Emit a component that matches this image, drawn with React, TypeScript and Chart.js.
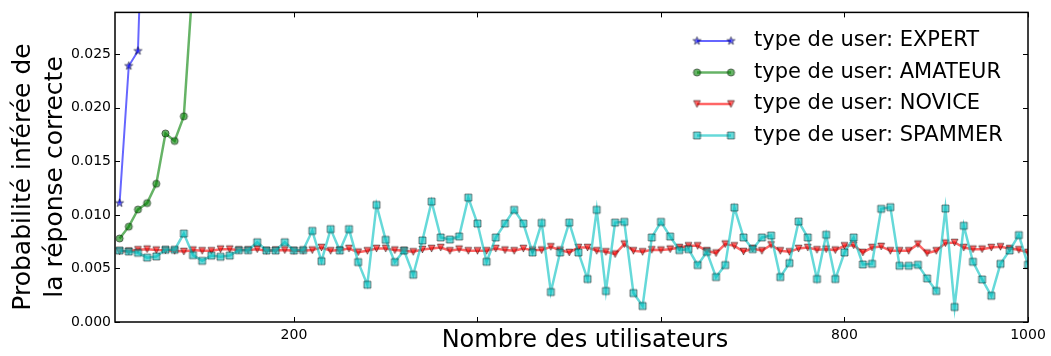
import React, { useEffect, useRef } from 'react';
import { Chart, registerables } from 'chart.js';

Chart.register(...registerables);

// ---- Data ----
const USERS = [
  10, 20, 30, 40, 50, 60, 70, 80, 90, 100,
  110, 120, 130, 140, 150, 160, 170, 180, 190, 200,
  210, 220, 230, 240, 250, 260, 270, 280, 290, 300,
  310, 320, 330, 340, 350, 360, 370, 380, 390, 400,
  410, 420, 430, 440, 450, 460, 470, 480, 490, 500,
  510, 520, 530, 540, 550, 560, 570, 580, 590, 600,
  610, 620, 630, 640, 650, 660, 670, 680, 690, 700,
  710, 720, 730, 740, 750, 760, 770, 780, 790, 800,
  810, 820, 830, 840, 850, 860, 870, 880, 890, 900,
  910, 920, 930, 940, 950, 960, 970, 980, 990, 1000,
];

// visible part only (the series leaves the top of the plot afterwards)
const EXPERT = [0.0111, 0.0239, 0.0253, 0.052];
const AMATEUR = [0.0078, 0.0089, 0.0105, 0.0111, 0.0129, 0.0176, 0.0169, 0.0192, 0.032];

const NOVICE = [
  0.0066, 0.0066, 0.00674, 0.0068, 0.00671, 0.0067, 0.00665, 0.00658, 0.00671, 0.00665,
  0.00665, 0.0068, 0.0068, 0.00671, 0.00671, 0.0068, 0.00665, 0.0067, 0.00671, 0.00665,
  0.00665, 0.00671, 0.00695, 0.00665, 0.00671, 0.00686, 0.00652, 0.00665, 0.00686, 0.00686,
  0.00671, 0.00665, 0.00655, 0.00677, 0.00686, 0.00695, 0.00665, 0.0068, 0.00665, 0.00665,
  0.00665, 0.00686, 0.00671, 0.00665, 0.00686, 0.00671, 0.00671, 0.00702, 0.00671, 0.00649,
  0.00695, 0.00695, 0.00665, 0.00655, 0.00634, 0.00727, 0.00665, 0.00655, 0.00674, 0.00671,
  0.0068, 0.00695, 0.00711, 0.00711, 0.00665, 0.00643, 0.00727, 0.00711, 0.00658, 0.00686,
  0.00665, 0.0072, 0.00665, 0.00655, 0.00686, 0.00695, 0.00674, 0.0068, 0.00671, 0.00711,
  0.00716, 0.00649, 0.00695, 0.00705, 0.00665, 0.00665, 0.00665, 0.00727, 0.00643, 0.00665,
  0.00736, 0.00742, 0.00695, 0.0068, 0.0068, 0.00695, 0.00702, 0.00686, 0.00674, 0.00649,
];

const SPAMMER = [
  0.00667, 0.00658, 0.00646, 0.00601, 0.00612, 0.00675, 0.00675, 0.00826, 0.00624, 0.00571,
  0.0062, 0.00609, 0.0062, 0.0067, 0.0067, 0.00745, 0.00667, 0.00667, 0.00745, 0.00667,
  0.00671, 0.00851, 0.00568, 0.00867, 0.00667, 0.00867, 0.00559, 0.00348, 0.01093, 0.00767,
  0.00559, 0.00667, 0.00441, 0.00761, 0.01124, 0.00789, 0.0077, 0.00798, 0.01161, 0.00919,
  0.00562, 0.00789, 0.00919, 0.01047, 0.00919, 0.00649, 0.00925, 0.0028, 0.00649, 0.00928,
  0.00649, 0.00401, 0.01047, 0.00289, 0.00928, 0.00935, 0.0027, 0.00149, 0.00789, 0.00935,
  0.00798, 0.00671, 0.0068, 0.00531, 0.00655, 0.00419, 0.00531, 0.01068, 0.00789, 0.0068,
  0.00789, 0.00807, 0.00419, 0.0055, 0.00938, 0.00789, 0.00401, 0.00814, 0.00401, 0.00649,
  0.00789, 0.00537, 0.00543, 0.01056, 0.01072, 0.00525, 0.00525, 0.00534, 0.00407, 0.00289,
  0.01059, 0.0014, 0.00898, 0.00562, 0.00397, 0.00245, 0.00543, 0.00668, 0.00811, 0.00534,
];

const SERIES_LABELS = [
  'type de user: EXPERT',
  'type de user: AMATEUR',
  'type de user: NOVICE',
  'type de user: SPAMMER',
];
const X_TICKS = [200, 400, 600, 800, 1000];
const X_TICK_LABELS: Record<number, string> = { 200: '200', 800: '800', 1000: '1000' };
const Y_TICKS = [0, 0.005, 0.01, 0.015, 0.02, 0.025];
const Y_TITLE = ['Probabilité inférée de', 'la réponse correcte'];
const X_TITLE = 'Nombre des utilisateurs';

const FONT = "'DejaVu Sans', 'Liberation Sans', sans-serif";
const COLORS = ['rgba(0,0,255,0.6)', 'rgba(0,128,0,0.6)', 'rgba(255,0,0,0.6)', 'rgba(0,191,191,0.6)'];
const EDGE = 'rgba(0,0,0,0.55)';

type Kind = 'star' | 'circle' | 'tri' | 'square';

function makeMarker(kind: Kind, fill: string): HTMLCanvasElement {
  const S = 13;
  const c = document.createElement('canvas');
  c.width = S;
  c.height = S;
  const ctx = c.getContext('2d')!;
  const cx = S / 2;
  const cy = S / 2;
  ctx.beginPath();
  if (kind === 'star') {
    const R = 4.3;
    const r = R * 0.4;
    for (let k = 0; k < 10; k++) {
      const a = -Math.PI / 2 + (k * Math.PI) / 5;
      const rr = k % 2 === 0 ? R : r;
      const px = cx + rr * Math.cos(a);
      const py = cy + rr * Math.sin(a);
      if (k === 0) ctx.moveTo(px, py);
      else ctx.lineTo(px, py);
    }
    ctx.closePath();
  } else if (kind === 'circle') {
    ctx.arc(cx, cy, 3.6, 0, Math.PI * 2);
  } else if (kind === 'tri') {
    const h = 3.4;
    ctx.moveTo(cx - h, cy - h);
    ctx.lineTo(cx + h, cy - h);
    ctx.lineTo(cx, cy + h);
    ctx.closePath();
  } else {
    const h = 3.5;
    ctx.rect(cx - h, cy - h, 2 * h, 2 * h);
  }
  ctx.fillStyle = fill;
  ctx.fill();
  ctx.lineWidth = 0.9;
  ctx.strokeStyle = EDGE;
  ctx.stroke();
  return c;
}

export default function App() {
  const ref = useRef<HTMLCanvasElement | null>(null);

  useEffect(() => {
    const canvas = ref.current;
    if (!canvas) return;
    const kinds: Kind[] = ['star', 'circle', 'tri', 'square'];
    const markers = kinds.map((k, i) => makeMarker(k, COLORS[i]));
    const values = [EXPERT, AMATEUR, NOVICE, SPAMMER];

    const datasets = values.map((arr, i) => ({
      label: SERIES_LABELS[i],
      data: arr.map((y, j) => ({ x: USERS[j], y })),
      borderColor: COLORS[i],
      backgroundColor: COLORS[i],
      borderWidth: i === 0 ? 2 : 2.5,
      pointStyle: markers[i] as any,
      pointRadius: 5,
      pointHoverRadius: 5,
      tension: 0,
      order: 3 - i,
    }));

    const decor = {
      id: 'decor',
      afterDraw(chart: any) {
        const ctx = chart.ctx as CanvasRenderingContext2D;
        const { left, right, top, bottom } = chart.chartArea;
        const xs = chart.scales.x;
        const ys = chart.scales.y;
        ctx.save();
        // inward ticks on all sides
        ctx.strokeStyle = '#000';
        ctx.lineWidth = 1;
        ctx.beginPath();
        xs.ticks.forEach((t: any) => {
          const px = Math.round(xs.getPixelForValue(t.value)) + 0.5;
          ctx.moveTo(px, bottom);
          ctx.lineTo(px, bottom - 5);
          ctx.moveTo(px, top);
          ctx.lineTo(px, top + 5);
        });
        ys.ticks.forEach((t: any) => {
          const py = Math.round(ys.getPixelForValue(t.value)) + 0.5;
          ctx.moveTo(left, py);
          ctx.lineTo(left + 5, py);
          ctx.moveTo(right, py);
          ctx.lineTo(right - 5, py);
        });
        ctx.stroke();
        // frame
        ctx.lineWidth = 1.5;
        ctx.strokeRect(left, top, right - left, bottom - top);

        // axis titles
        ctx.fillStyle = '#000';
        ctx.textAlign = 'center';
        ctx.textBaseline = 'middle';
        ctx.font = `25px ${FONT}`;
        ctx.save();
        ctx.translate(23, 177);
        ctx.rotate(-Math.PI / 2);
        ctx.fillText(Y_TITLE[0], 0, 0);
        ctx.fillText(Y_TITLE[1], 0, 32);
        ctx.restore();
        ctx.font = `24px ${FONT}`;
        ctx.fillText(X_TITLE, 585, 341);

        // legend
        const rows = [41, 72.5, 104, 135.5];
        const x0 = 697;
        const x1 = 731;
        chart.data.datasets.forEach((ds: any, i: number) => {
          const y = rows[i];
          ctx.strokeStyle = ds.borderColor;
          ctx.lineWidth = ds.borderWidth;
          ctx.beginPath();
          ctx.moveTo(x0, y);
          ctx.lineTo(x1, y);
          ctx.stroke();
          const m = markers[i];
          ctx.drawImage(m, x0 - m.width / 2, y - m.height / 2);
          ctx.drawImage(m, x1 - m.width / 2, y - m.height / 2);
          ctx.fillStyle = '#000';
          ctx.textAlign = 'left';
          ctx.textBaseline = 'middle';
          ctx.font = `21px ${FONT}`;
          ctx.fillText(ds.label, 754, y);
        });
        ctx.restore();
      },
    };

    const chart = new Chart(canvas, {
      type: 'line',
      data: { datasets: datasets as any },
      options: {
        animation: false,
        responsive: false,
        devicePixelRatio: 1,
        events: [],
        layout: { padding: { top: 12, right: 23, left: 0, bottom: 0 }, autoPadding: false },
        plugins: { legend: { display: false }, tooltip: { enabled: false } },
        scales: {
          x: {
            type: 'linear',
            min: 5,
            max: 1000,
            grid: { display: false, drawTicks: false },
            border: { display: false },
            afterBuildTicks: (s: any) => {
              s.ticks = X_TICKS.map((v) => ({ value: v }));
            },
            ticks: {
              autoSkip: false,
              maxRotation: 0,
              padding: 5,
              color: '#000',
              font: { family: FONT, size: 14 },
              callback: (v: any) => X_TICK_LABELS[Number(v)] ?? '',
            },
            afterFit: (s: any) => {
              s.height = 34;
            },
          },
          y: {
            type: 'linear',
            min: 0,
            max: 0.0289,
            grid: { display: false, drawTicks: false },
            border: { display: false },
            afterBuildTicks: (s: any) => {
              s.ticks = Y_TICKS.map((v) => ({ value: v }));
            },
            ticks: {
              autoSkip: false,
              padding: 4,
              color: '#000',
              font: { family: FONT, size: 14 },
              callback: (v: any) => Number(v).toFixed(3),
            },
            afterFit: (s: any) => {
              s.width = 115;
            },
          },
        },
      },
      plugins: [decor],
    });
    return () => chart.destroy();
  }, []);

  return (
    <div style={{ position: 'fixed', left: 0, top: 0, width: 1051, height: 356, background: '#fff' }}>
      <canvas ref={ref} width={1051} height={356} style={{ display: 'block', width: 1051, height: 356 }} />
    </div>
  );
}
